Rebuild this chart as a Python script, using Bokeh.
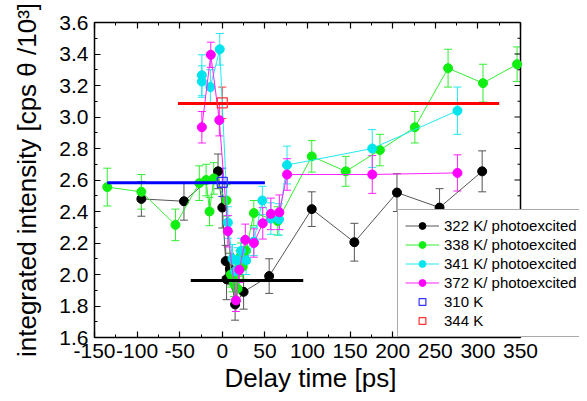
import numpy as np
from bokeh.plotting import figure
from bokeh.models import (ColumnDataSource, Whisker, TeeHead, LinearAxis,
                          SingleIntervalTicker, Legend, LegendItem, Range1d,
                          CustomJSTickFormatter, Title)
from bokeh.embed import file_html
from bokeh.resources import INLINE

# ---------------- data ----------------
t_322 = [-95, -45, -5, 0, 4, 5, 9, 15, 25, 55, 105, 155, 205, 255, 305]
v_322 = [2.48, 2.465, 2.655, 2.425, 2.085, 1.97, 2.035, 1.81, 1.89, 1.99, 2.415, 2.205, 2.52, 2.425, 2.655]
e_322 = [0.11, 0.12, 0.11, 0.13, 0.10, 0.13, 0.10, 0.10, 0.11, 0.11, 0.11, 0.12, 0.12, 0.12, 0.13]

t_338 = [-135, -95, -55, -27, -19, -15, -10, 5, 10, 12, 14, 16, 18, 20, 22, 24, 28, 37, 65, 105, 145, 185, 226, 265, 306, 346]
v_338 = [2.555, 2.525, 2.315, 2.58, 2.60, 2.40, 2.61, 2.47, 2.00, 1.97, 1.94, 2.02, 1.91, 2.07, 2.12, 2.05, 2.15, 2.39, 2.34, 2.75, 2.655, 2.79, 2.935, 3.31, 3.215, 3.335]
e_338 = [0.12, 0.11, 0.10, 0.11, 0.10, 0.09, 0.10, 0.10, 0.08, 0.08, 0.08, 0.08, 0.08, 0.08, 0.08, 0.08, 0.08, 0.08, 0.09, 0.10, 0.095, 0.10, 0.10, 0.12, 0.12, 0.11]

t_341 = [-24, -24, -14, -3, 6.5, 12, 15, 18, 22, 28, 37, 47, 57, 66.5, 76, 176, 276]
v_341 = [3.265, 3.225, 3.19, 3.43, 2.33, 2.10, 2.02, 2.09, 2.15, 2.09, 2.21, 2.47, 2.355, 2.35, 2.695, 2.80, 3.04]
e_341 = [0.13, 0.10, 0.11, 0.10, 0.10, 0.09, 0.08, 0.08, 0.08, 0.09, 0.09, 0.09, 0.10, 0.10, 0.12, 0.12, 0.15]

t_372 = [-24, -13.5, -3.5, 6.5, 16, 20, 27, 37, 47.5, 57, 67, 76, 176, 276]
v_372 = [2.935, 3.395, 2.98, 2.275, 1.835, 2.03, 2.22, 2.20, 2.325, 2.385, 2.395, 2.635, 2.635, 2.645]
e_372 = [0.10, 0.08, 0.10, 0.10, 0.07, 0.08, 0.10, 0.09, 0.10, 0.10, 0.11, 0.10, 0.12, 0.115]

t_310 = [0]
v_310 = [2.585]
e_310 = [0.09]

t_344 = [0]
v_344 = [3.09]
e_344 = [0.10]

# horizontal reference levels
ref_x0 = [-135, -52, -37]
ref_x1 = [50, 325, 95]
ref_y = [2.582, 3.085, 1.962]
ref_color = ["#0000ff", "#ff0000", "#000000"]

series_labels = ["322 K/ photoexcited", "338 K/ photoexcited",
                 "341 K/ photoexcited", "372 K/ photoexcited", "310 K", "344 K"]

x_min, x_max = -150, 350
y_min, y_max = 1.6, 3.6
x_ticks_interval = 50
y_ticks_interval = 0.2

FONT = "Liberation Sans"

# ---------------- figure ----------------
W, H = 579, 393
LEFT, TOP, BOTTOM = 94, 22, 56
FRAME_RIGHT = 520            # pixel where x = 350 sits
px_per_unit = (FRAME_RIGHT - LEFT) / (x_max - x_min)
x_view_max = x_max + (W - FRAME_RIGHT) / px_per_unit   # frame runs to canvas edge

p = figure(width=W, height=H, x_range=Range1d(x_min, x_view_max), y_range=Range1d(y_min, y_max),
           output_backend="svg", toolbar_location=None,
           min_border_left=LEFT, min_border_right=0, min_border_top=TOP, min_border_bottom=BOTTOM)
p.xgrid.visible = False
p.ygrid.visible = False
p.outline_line_color = None
p.background_fill_color = "white"
p.border_fill_color = "white"

def style_axis(ax, interval, show_labels=True):
    ax.ticker = SingleIntervalTicker(interval=interval, num_minor_ticks=2)
    ax.major_tick_in = 6
    ax.major_tick_out = 0
    ax.minor_tick_in = 3
    ax.minor_tick_out = 0
    ax.axis_line_color = "black"
    ax.axis_line_width = 1.5
    ax.major_tick_line_color = "black"
    ax.minor_tick_line_color = "black"
    ax.major_tick_line_width = 1.2
    ax.major_label_text_font = FONT
    ax.major_label_text_font_size = "21px"
    ax.major_label_text_color = "black"
    if not show_labels:
        ax.formatter = CustomJSTickFormatter(code="return ''")
        ax.major_label_standoff = 0

xa = p.xaxis[0]
ya = p.yaxis[0]
style_axis(xa, x_ticks_interval)
style_axis(ya, y_ticks_interval)
xa.bounds = (x_min, x_max)
xa.formatter = CustomJSTickFormatter(code="return tick.toFixed(0)")
ya.formatter = CustomJSTickFormatter(code="return tick.toFixed(1)")
xa.major_label_standoff = 6
ya.major_label_standoff = 6
ya.axis_label = "integrated intensity [cps \u03b8 /10\u00b3]"
ya.axis_label_text_font = FONT
ya.axis_label_text_font_size = "26px"
ya.axis_label_text_font_style = "normal"
ya.axis_label_text_color = "black"
ya.axis_label_standoff = 14

# x-axis title placed under the -150..350 box (the frame itself runs further right)
x_title = Title(text="Delay time [ps]", align="left", offset=130,
                text_font=FONT, text_font_size="26px", text_font_style="normal",
                text_color="black", standoff=0)
p.add_layout(x_title, "below")

top_ax = LinearAxis()
style_axis(top_ax, x_ticks_interval, show_labels=False)
top_ax.bounds = (x_min, x_max)
p.add_layout(top_ax, "above")

# right-hand border of the box at x = 350 with inward ticks
p.segment(x0=[x_max], x1=[x_max], y0=[y_min], y1=[y_max], line_color="black", line_width=1.5)
major_y = np.round(np.arange(y_min, y_max + 1e-9, y_ticks_interval), 3)
minor_y = np.round(major_y[:-1] + y_ticks_interval / 2, 3)
p.ray(x=[x_max] * len(major_y), y=major_y, length=6, length_units="screen",
      angle=np.pi, line_color="black", line_width=1.2)
p.ray(x=[x_max] * len(minor_y), y=minor_y, length=3, length_units="screen",
      angle=np.pi, line_color="black", line_width=1)

# ---------------- series ----------------
def add_series(t, v, e, line_color, marker_color):
    src = ColumnDataSource(dict(t=t, v=v, lo=[a - b for a, b in zip(v, e)],
                                hi=[a + b for a, b in zip(v, e)]))
    w = Whisker(source=src, base="t", upper="hi", lower="lo",
                line_color=line_color, line_width=1,
                upper_head=TeeHead(size=8, line_color=line_color, line_width=1),
                lower_head=TeeHead(size=8, line_color=line_color, line_width=1))
    p.add_layout(w)
    ln = p.line("t", "v", source=src, line_color=line_color, line_width=1)
    sc = p.scatter("t", "v", source=src, marker="circle", size=9,
                   fill_color=marker_color, line_color=marker_color)
    return ln, sc

r322 = add_series(t_322, v_322, e_322, "#555555", "#000000")
r338 = add_series(t_338, v_338, e_338, "#33ee33", "#11ee11")
r341 = add_series(t_341, v_341, e_341, "#22e8f0", "#00e4ee")
r372 = add_series(t_372, v_372, e_372, "#ff22ff", "#ff00ff")

# reference levels
ref_src = ColumnDataSource(dict(x0=ref_x0, x1=ref_x1, y=ref_y, c=ref_color))
p.segment(x0="x0", x1="x1", y0="y", y1="y", source=ref_src, line_color="c", line_width=3)

def add_square(t, v, e, color):
    src = ColumnDataSource(dict(t=t, v=v, lo=[a - b for a, b in zip(v, e)],
                                hi=[a + b for a, b in zip(v, e)]))
    w = Whisker(source=src, base="t", upper="hi", lower="lo",
                line_color=color, line_width=1,
                upper_head=TeeHead(size=8, line_color=color, line_width=1),
                lower_head=TeeHead(size=8, line_color=color, line_width=1))
    p.add_layout(w)
    return p.scatter("t", "v", source=src, marker="square", size=10,
                     fill_color="white", fill_alpha=0.0, line_color=color, line_width=1.2)

s310 = add_square(t_310, v_310, e_310, "#3333ff")
s344 = add_square(t_344, v_344, e_344, "#ff3333")

legend = Legend(items=[
    LegendItem(label=series_labels[0], renderers=list(r322)),
    LegendItem(label=series_labels[1], renderers=list(r338)),
    LegendItem(label=series_labels[2], renderers=list(r341)),
    LegendItem(label=series_labels[3], renderers=list(r372)),
    LegendItem(label=series_labels[4], renderers=[s310]),
    LegendItem(label=series_labels[5], renderers=[s344]),
], location=(303, 0))
legend.label_text_font = FONT
legend.label_text_font_size = "15px"
legend.label_text_color = "black"
legend.label_height = 17
legend.glyph_height = 17
legend.glyph_width = 34
legend.spacing = 2
legend.padding = 7
legend.margin = 0
legend.label_standoff = 5
legend.border_line_color = "#555555"
legend.border_line_width = 1
legend.background_fill_color = "white"
legend.background_fill_alpha = 1.0
p.add_layout(legend)

open("out.html", "w").write(file_html(p, INLINE))
